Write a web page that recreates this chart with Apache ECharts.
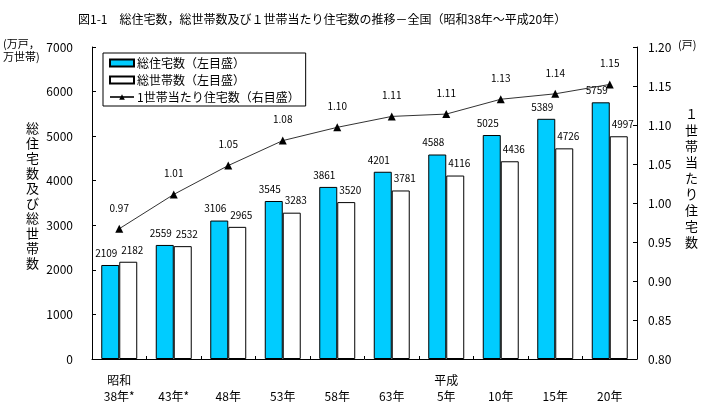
<!DOCTYPE html>
<html><head><meta charset="utf-8">
<script src="https://cdn.jsdelivr.net/npm/echarts@6/dist/echarts.min.js"></script>
<style>html,body{margin:0;padding:0;background:#fff}#c{width:713px;height:415px}</style>
</head><body><div id="c"></div>
<script>
var categories = ['昭和\n38年*', '\n43年*', '\n48年', '\n53年', '\n58年', '\n63年', '平成\n5年', '\n10年', '\n15年', '\n20年'];
var houses = [2109, 2559, 3106, 3545, 3861, 4201, 4588, 5025, 5389, 5759];
var households = [2182, 2532, 2965, 3283, 3520, 3781, 4116, 4436, 4726, 4997];
var perHousehold = [0.967, 1.011, 1.048, 1.080, 1.097, 1.111, 1.114, 1.133, 1.140, 1.152];
var seriesNames = ['総住宅数（左目盛）', '総世帯数（左目盛）', '1世帯当たり住宅数（右目盛）'];

var FF = '"Noto Sans CJK JP", sans-serif';
var chart = echarts.init(document.getElementById('c'), null, {renderer: 'canvas'});
chart.setOption({
  animation: false,
  backgroundColor: '#fff',
  textStyle: {fontFamily: FF, color: '#000'},
  grid: {left: 92, right: 76, top: 47, bottom: 56, containLabel: false},
  graphic: [
    {type: 'text', left: 78, top: 13, style: {text: '図1-1　総住宅数，総世帯数及び１世帯当たり住宅数の推移－全国（昭和38年～平成20年）', font: '12px ' + FF, fill: '#000'}},
    {type: 'text', left: 3, top: 37, style: {text: '(万戸，\n万世帯)', font: '11px ' + FF, lineHeight: 13, fill: '#000'}},
    {type: 'text', left: 678, top: 39, style: {text: '(戸)', font: '11px ' + FF, fill: '#000'}},
    {type: 'text', left: 26, top: 121, style: {text: '総\n住\n宅\n数\n及\nび\n総\n世\n帯\n数', font: '13px ' + FF, lineHeight: 15, fill: '#000'}},
    {type: 'text', left: 685, top: 106, style: {text: '１\n世\n帯\n当\nた\nり\n住\n宅\n数', font: '13px ' + FF, lineHeight: 16, fill: '#000'}}
  ],
  legend: {
    orient: 'vertical', left: 103, top: 53,
    backgroundColor: '#fff', borderColor: '#000', borderWidth: 1,
    padding: [4, 6, 3, 6], itemGap: 5, itemWidth: 24, itemHeight: 7,
    textStyle: {fontFamily: FF, fontSize: 12, color: '#000', padding: [0, 0, 0, -2]},
    data: [
      {name: seriesNames[0], icon: 'rect'},
      {name: seriesNames[1], icon: 'rect'},
      {name: seriesNames[2]}
    ]
  },
  xAxis: {
    type: 'category', data: categories,
    axisLine: {lineStyle: {color: '#000', width: 1}},
    axisTick: {show: true, inside: true, length: 3, lineStyle: {color: '#000'}},
    axisLabel: {color: '#000', fontSize: 12, lineHeight: 16, margin: 13, fontFamily: FF, interval: 0}
  },
  yAxis: [
    {type: 'value', min: 0, max: 7000, interval: 1000, position: 'left',
     axisLine: {show: true, lineStyle: {color: '#000'}},
     axisTick: {show: true, inside: true, length: 4, lineStyle: {color: '#000'}},
     axisLabel: {color: '#000', fontSize: 12, margin: 19, fontFamily: FF, formatter: function (v) { return String(v); }},
     splitLine: {show: false}},
    {type: 'value', min: 0.8, max: 1.2, interval: 0.05, position: 'right',
     axisLine: {show: true, lineStyle: {color: '#000'}},
     axisTick: {show: true, inside: true, length: 4, lineStyle: {color: '#000'}},
     axisLabel: {color: '#000', fontSize: 12, margin: 11, fontFamily: FF, formatter: function (v) { return v.toFixed(2); }},
     splitLine: {show: false}}
  ],
  series: [
    {name: seriesNames[0], type: 'bar', data: houses, yAxisIndex: 0,
     barGap: '0%', barCategoryGap: '34%',
     itemStyle: {color: '#00CCFF', borderColor: '#000', borderWidth: 1},
     label: {show: true, position: 'top', distance: 7, offset: [-4, 0], color: '#000', fontSize: 10, fontFamily: FF}},
    {name: seriesNames[1], type: 'bar', data: households, yAxisIndex: 0,
     itemStyle: {color: '#fff', borderColor: '#000', borderWidth: 1},
     label: {show: true, position: 'top', distance: 7, offset: [4, 0], color: '#000', fontSize: 10, fontFamily: FF}},
    {name: seriesNames[2], type: 'line', data: perHousehold, yAxisIndex: 1,
     symbol: 'triangle', symbolSize: 8,
     lineStyle: {color: '#333', width: 1},
     itemStyle: {color: '#000'},
     label: {show: true, position: 'top', distance: 12, color: '#000', fontSize: 10, fontFamily: FF,
       formatter: function (p) { return p.value.toFixed(2); }}}
  ]
});
</script></body></html>
